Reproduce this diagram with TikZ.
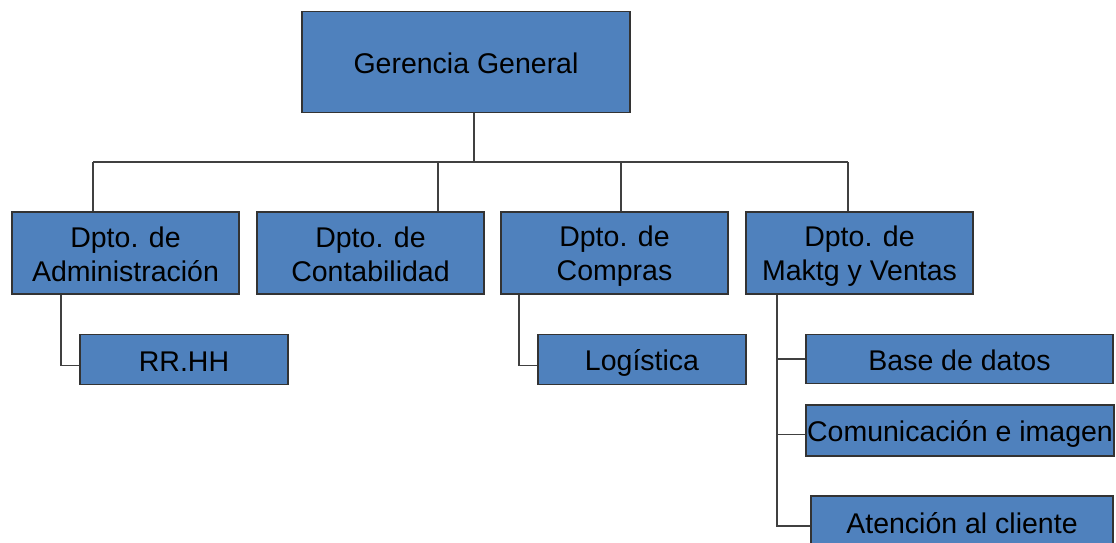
\documentclass[tikz,border=0pt]{standalone}
\usepackage{fontspec}
\setmainfont{Liberation Sans}
\definecolor{boxblue}{HTML}{4F81BD}
\definecolor{edgegray}{HTML}{333333}
\definecolor{linegray}{HTML}{404040}
\newcommand\capstrut{\rule[-3.6pt]{0pt}{30.6pt}}
\begin{document}
\begin{tikzpicture}[x=1pt,y=-1pt,
  orgbox/.style={draw=edgegray, line width=1.3pt, fill=boxblue, inner sep=0pt,
    align=center, font=\fontsize{28.5}{34}\selectfont, text=black},
  conn/.style={draw=linegray, line width=1.5pt}]
\useasboundingbox (0,0) rectangle (1116,542);
\fill[white] (0,0) rectangle (1116,542);

\node[orgbox, minimum width=328pt, minimum height=101pt] (gg) at (466,62) {\capstrut Gerencia General};

\node[orgbox, minimum width=227pt, minimum height=82pt] (admin) at (125.5,253) {\capstrut Dpto. de\\\capstrut Administración};
\node[orgbox, minimum width=227pt, minimum height=82pt] (contab) at (370.5,253) {\capstrut Dpto. de\\\capstrut Contabilidad};
\node[orgbox, minimum width=227pt, minimum height=82pt] (compras) at (614.5,253) {\capstrut Dpto. de\\\capstrut Compras};
\node[orgbox, minimum width=227pt, minimum height=82pt] (maktg) at (859.5,253) {\capstrut Dpto. de\\\capstrut Maktg y Ventas};

\node[orgbox, minimum width=208pt, minimum height=50pt] (rrhh) at (184,359.5) {\capstrut RR.HH};
\node[orgbox, minimum width=208pt, minimum height=50pt] (log) at (642,359.5) {\capstrut Logística};
\node[orgbox, minimum width=307pt, minimum height=49pt] (base) at (959.5,359) {\capstrut Base de datos};
\node[orgbox, minimum width=308pt, minimum height=51pt] (com) at (960,430.5) {\capstrut Comunicación e imagen};
\node[orgbox, minimum width=302pt, minimum height=52pt] (aten) at (962,522) {\capstrut Atención al cliente};

\coordinate (bus) at (474,162);
\coordinate (busA) at (93,162);
\coordinate (busC) at (438,162);
\coordinate (busP) at (621,162);
\coordinate (busM) at (848,162);
\coordinate (sA) at (61,0);
\coordinate (sP) at (519,0);
\coordinate (sM) at (777,0);
\coordinate (rrhhw) at ([yshift=-6pt]rrhh.west);
\coordinate (logw) at ([yshift=-6pt]log.west);
\coordinate (comw) at ([yshift=-4pt]com.west);
\coordinate (atenw) at ([yshift=-4pt]aten.west);

\draw[conn] (gg.south -| bus) -- (bus);
\draw[conn] (busA) -- (busM);
\draw[conn] (busA) -- (busA |- admin.north);
\draw[conn] (busC) -- (busC |- contab.north);
\draw[conn] (busP) -- (busP |- compras.north);
\draw[conn] (busM) -- (busM |- maktg.north);

\draw[conn] (sA |- admin.south) |- (rrhhw);
\draw[conn] (sP |- compras.south) |- (logw);
\draw[conn] (sM |- maktg.south) |- (atenw);
\draw[conn] (sM |- base.west) -- (base.west);
\draw[conn] (sM |- comw) -- (comw);
\end{tikzpicture}
\end{document}
